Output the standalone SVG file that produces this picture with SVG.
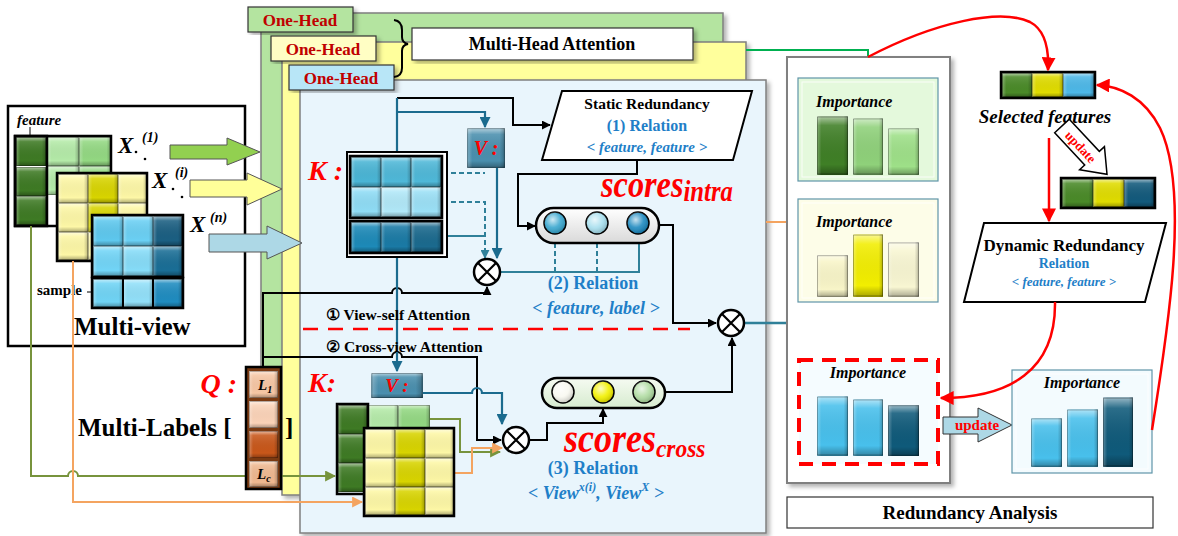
<svg xmlns="http://www.w3.org/2000/svg" width="1178" height="536" viewBox="0 0 1178 536">
<style>
.t{font-family:"Liberation Serif","Times New Roman",serif;font-weight:bold;}
.it{font-style:italic;}
.red{fill:#ff0000;}
.dred{fill:#c00000;}
.blu{fill:#1f7fc8;}
.ln{fill:none;stroke:#000;stroke-width:2;}
.tl{fill:none;stroke:#2f8099;stroke-width:2;}
.bl{fill:none;stroke:#1b6b8e;stroke-width:2.2;}
.dsh{stroke-dasharray:5,3;}
.rl{fill:none;stroke:#ff0000;stroke-width:2.5;}
.box{stroke:#000;stroke-width:2.5;fill:none;}
.panel{stroke:#7f7f7f;stroke-width:1.5;}
.imp{stroke:#5f95a8;stroke-width:1.2;}
.otimes circle{fill:#fff;stroke:#000;stroke-width:2.5;}
.otimes path{stroke:#000;stroke-width:2.2;}
</style>
<defs>
<linearGradient id="bev" x1="0" y1="0" x2="0" y2="1">
<stop offset="0" stop-color="#fff" stop-opacity="0.6"/>
<stop offset="0.16" stop-color="#fff" stop-opacity="0.12"/>
<stop offset="0.82" stop-color="#000" stop-opacity="0"/>
<stop offset="1" stop-color="#000" stop-opacity="0.32"/>
</linearGradient>
<linearGradient id="bevx" x1="0" y1="0" x2="1" y2="0">
<stop offset="0" stop-color="#fff" stop-opacity="0.3"/>
<stop offset="0.14" stop-color="#fff" stop-opacity="0"/>
<stop offset="0.86" stop-color="#000" stop-opacity="0"/>
<stop offset="1" stop-color="#000" stop-opacity="0.25"/>
</linearGradient>
<radialGradient id="gloss" cx="0.4" cy="0.35" r="0.6">
<stop offset="0" stop-color="#fff" stop-opacity="0.75"/>
<stop offset="0.6" stop-color="#fff" stop-opacity="0.1"/>
<stop offset="1" stop-color="#000" stop-opacity="0.15"/>
</radialGradient>
<linearGradient id="pill" x1="0" y1="0" x2="0" y2="1">
<stop offset="0" stop-color="#ffffff"/>
<stop offset="1" stop-color="#d9d9d9"/>
</linearGradient>
<linearGradient id="pill2" x1="0" y1="0" x2="0" y2="1">
<stop offset="0" stop-color="#f6fbf2"/>
<stop offset="1" stop-color="#d6ebcf"/>
</linearGradient>
<symbol id="cell" viewBox="0 0 30 30" preserveAspectRatio="none">
<rect x="0" y="0" width="30" height="30" fill="currentColor"/>
<rect x="0" y="0" width="30" height="30" fill="url(#bev)"/>
<rect x="0" y="0" width="30" height="30" fill="url(#bevx)"/>
<rect x="0.5" y="0.5" width="29" height="29" fill="none" stroke="#000" stroke-opacity="0.3" vector-effect="non-scaling-stroke"/>
</symbol>
<filter id="sh" x="-5%" y="-5%" width="115%" height="115%">
<feDropShadow dx="3" dy="3" stdDeviation="2" flood-color="#000" flood-opacity="0.3"/>
</filter>
<marker id="aK" viewBox="0 0 10 10" refX="9" refY="5" markerWidth="9" markerHeight="9" markerUnits="userSpaceOnUse" orient="auto"><path d="M0,0L10,5L0,10z" fill="#000"/></marker>
<marker id="aT" viewBox="0 0 10 10" refX="9" refY="5" markerWidth="9" markerHeight="9" markerUnits="userSpaceOnUse" orient="auto"><path d="M0,0L10,5L0,10z" fill="#2f8099"/></marker>
<marker id="aB" viewBox="0 0 10 10" refX="9" refY="5" markerWidth="11" markerHeight="11" markerUnits="userSpaceOnUse" orient="auto"><path d="M0,0L10,5L0,10z" fill="#1b6b8e"/></marker>
<marker id="aR" viewBox="0 0 10 10" refX="9" refY="5" markerWidth="14" markerHeight="14" markerUnits="userSpaceOnUse" orient="auto"><path d="M0,0L10,5L0,10z" fill="#ff0000"/></marker>
<marker id="aG" viewBox="0 0 10 10" refX="9" refY="5" markerWidth="10" markerHeight="10" markerUnits="userSpaceOnUse" orient="auto"><path d="M0,0L10,5L0,10z" fill="#00b050"/></marker>
<marker id="aO" viewBox="0 0 10 10" refX="9" refY="5" markerWidth="11" markerHeight="11" markerUnits="userSpaceOnUse" orient="auto"><path d="M0,0L10,5L0,10z" fill="#f4a460"/></marker>
<marker id="aL" viewBox="0 0 10 10" refX="9" refY="5" markerWidth="11" markerHeight="11" markerUnits="userSpaceOnUse" orient="auto"><path d="M0,0L10,5L0,10z" fill="#77933c"/></marker>
</defs>

<rect width="1178" height="536" fill="#fff"/>

<!-- panels -->
<g id="panels">
<rect x="261" y="13" width="462" height="465" fill="#b4e4a0" class="panel" filter="url(#sh)"/>
<rect x="282" y="42" width="464" height="453" fill="#ffff9c" class="panel" filter="url(#sh)"/>
<rect x="300" y="80" width="466" height="453" fill="#e9f5fc" class="panel" filter="url(#sh)"/>
</g>
<g id="head1"><rect x="248" y="7" width="105" height="25" fill="#b4e4a0" stroke="#333" stroke-width="1.2" filter="url(#sh)"/><text x="300" y="26" class="t dred" font-size="17" text-anchor="middle">One-Head</text></g>
<g id="head2"><rect x="271" y="36" width="105" height="25" fill="#fffec4" stroke="#333" stroke-width="1.2" filter="url(#sh)"/><text x="323" y="55" class="t dred" font-size="17" text-anchor="middle">One-Head</text></g>
<g id="head3"><rect x="289" y="65" width="105" height="25" fill="#b8e6f7" stroke="#333" stroke-width="1.2" filter="url(#sh)"/><text x="341" y="84" class="t dred" font-size="17" text-anchor="middle">One-Head</text></g>
<g id="brace"><path d="M394,20 Q402,21 402,30 L402,37 Q402,43 408,44 Q402,45 402,51 L402,68 Q402,76 394,77" fill="none" stroke="#000" stroke-width="2"/></g>
<g id="mha"><rect x="412" y="28" width="281" height="32" fill="#fff" stroke="#333" stroke-width="1.2" filter="url(#sh)"/><text x="552" y="50" class="t" font-size="18" text-anchor="middle">Multi-Head Attention</text></g>

<!-- multi-view -->
<g id="multiview">
<rect x="8" y="106" width="237" height="240" fill="#fff" stroke="#000" stroke-width="2.5"/>
<text x="17" y="125" class="t it" font-size="15">feature</text>
<line x1="30" y1="127" x2="30" y2="136" stroke="#000" stroke-width="1"/>
<g id="x1">
<use href="#cell" x="47" y="137" width="32" height="29" style="color:#b4eaa8"/>
<use href="#cell" x="79" y="137" width="32" height="29" style="color:#93d882"/>
<use href="#cell" x="47" y="166" width="32" height="29" style="color:#b4eaa8"/>
<use href="#cell" x="79" y="166" width="32" height="29" style="color:#93d882"/>
<use href="#cell" x="16" y="137" width="30" height="29" style="color:#3e7a24"/>
<use href="#cell" x="16" y="167" width="30" height="29" style="color:#3e7a24"/>
<use href="#cell" x="16" y="196" width="30" height="29" style="color:#3e7a24"/>
<rect x="15" y="136" width="96" height="90" class="box"/>
<rect x="15" y="136" width="32" height="90" class="box"/>
</g>
<g id="xi">
<use href="#cell" x="58" y="174" width="30" height="29" style="color:#fdf7a6"/>
<use href="#cell" x="88" y="174" width="30" height="29" style="color:#d8d400"/>
<use href="#cell" x="118" y="174" width="29" height="29" style="color:#fdf7a6"/>
<use href="#cell" x="58" y="203" width="30" height="29" style="color:#fdf7a6"/>
<use href="#cell" x="88" y="203" width="30" height="29" style="color:#d8d400"/>
<use href="#cell" x="118" y="203" width="29" height="29" style="color:#fdf7a6"/>
<use href="#cell" x="58" y="232" width="30" height="28" style="color:#fdf7a6"/>
<use href="#cell" x="88" y="232" width="30" height="28" style="color:#fdf7a6"/>
<use href="#cell" x="118" y="232" width="29" height="28" style="color:#fdf7a6"/>
<rect x="57" y="173" width="90" height="88" class="box"/>
</g>
<g id="xn">
<use href="#cell" x="93" y="216" width="30" height="30" style="color:#5ec8ee"/>
<use href="#cell" x="123" y="216" width="30" height="30" style="color:#6bd0f4"/>
<use href="#cell" x="153" y="216" width="29" height="30" style="color:#1b5f82"/>
<use href="#cell" x="93" y="246" width="30" height="30" style="color:#72d5f7"/>
<use href="#cell" x="123" y="246" width="30" height="30" style="color:#86dcf8"/>
<use href="#cell" x="153" y="246" width="29" height="30" style="color:#1a6e96"/>
<rect x="92" y="215" width="91" height="62" class="box" stroke="#0d3d58"/>
<use href="#cell" x="93" y="279" width="30" height="28" style="color:#70d4f5"/>
<use href="#cell" x="123" y="279" width="30" height="28" style="color:#92e0f9"/>
<use href="#cell" x="153" y="279" width="29" height="28" style="color:#1f8cc0"/>
<rect x="92" y="278" width="91" height="30" class="box"/>
<line x1="123" y1="278" x2="123" y2="308" stroke="#000" stroke-width="2"/>
<line x1="153" y1="278" x2="153" y2="308" stroke="#000" stroke-width="2"/>
</g>
<text x="37" y="295" class="t" font-size="15">sample</text>
<line x1="87" y1="292" x2="92" y2="292" stroke="#000" stroke-width="1"/>
<text x="118" y="153" class="t it" font-size="23">X<tspan x="142" y="142" font-size="14">(1)</tspan></text>
<text x="152" y="188" class="t it" font-size="23">X<tspan x="175" y="177" font-size="14">(i)</tspan></text>
<text x="190" y="232" class="t it" font-size="23">X<tspan x="210" y="222" font-size="14">(n)</tspan></text>
<circle cx="136" cy="152" r="1.3" fill="#000"/>
<circle cx="145" cy="159" r="1.3" fill="#000"/>
<circle cx="173" cy="189" r="1.3" fill="#000"/>
<circle cx="182" cy="197" r="1.3" fill="#000"/>
<text x="74" y="335" class="t" font-size="25">Multi-view</text>
</g>

<!-- input arrows -->
<g id="inarrows" stroke="#555" stroke-width="1">
<polygon points="170,145 227,145 227,138 260,152 227,165 227,159 170,159" fill="#92d050"/>
<polygon points="190,180 247,180 247,173 282,189 247,205 247,197 190,197" fill="#ffff99"/>
<polygon points="209,234 267,234 267,226 302,243 267,259 267,252 209,252" fill="#add8e6"/>
</g>

<!-- connectors -->
<g id="connectors">
<path d="M31,226 V476 H68 a5,5 0 0 1 10,0 H335" fill="none" stroke="#77933c" stroke-width="2" marker-end="url(#aL)"/>
<path d="M73,261 V502 H362" fill="none" stroke="#f4a460" stroke-width="2" marker-end="url(#aO)"/>
<path d="M263,368 V293 H392 a5,5 0 0 1 10,0 H487 V287" class="ln" marker-end="url(#aK)"/>
<path d="M263,357 H392 a5,5 0 0 1 10,0 H477 V440 H501" class="ln" marker-end="url(#aK)"/>
<path d="M397,98 H513 V125 H550" class="ln" marker-end="url(#aK)"/>
<path d="M397,98 V152" class="bl"/>
<path d="M397,112 H485 V127" class="bl" marker-end="url(#aB)"/>
<path d="M397,257 V371" class="bl" marker-end="url(#aB)"/>
<path d="M443,173 H485 M443,202 H485 V258" class="tl dsh" stroke="#2a5f70" marker-end="url(#aT)"/>
<path d="M443,236 H485" class="tl" stroke="#2a5f70"/>
<path d="M497,168 V258" class="bl" marker-end="url(#aB)"/>
<path d="M500,272 H639 V236" class="tl" marker-end="url(#aT)"/>
<path d="M555,272 V236" class="tl dsh" marker-end="url(#aT)"/>
<path d="M597,272 V236" class="tl dsh" marker-end="url(#aT)"/>
<path d="M637,160 V174 H518 V226 H535" class="ln" marker-end="url(#aK)"/>
<path d="M659,225 H673 V323 H716" class="ln" marker-end="url(#aK)"/>
<path d="M665,392 H732 V338" class="ln" marker-end="url(#aK)"/>
<path d="M744,323 H868 V358" fill="none" stroke="#2f8099" stroke-width="2.5" marker-end="url(#aT)"/>
<path d="M423,393 H472 a5,5 0 0 1 10,0 H502 V424" class="bl" marker-end="url(#aB)"/>
<path d="M430,419 H460 V452 H500" fill="none" stroke="#77933c" stroke-width="2" marker-end="url(#aL)"/>
<path d="M454,473 H472 V448 H502" fill="none" stroke="#f4a460" stroke-width="2" marker-end="url(#aO)"/>
<path d="M529,440 H547 V423 H603 V409" class="ln" marker-end="url(#aK)"/>
<path d="M746,50 H868 V77" fill="none" stroke="#00b050" stroke-width="2" marker-end="url(#aG)"/>
<path d="M766,222 H797" fill="none" stroke="#f4a460" stroke-width="2" marker-end="url(#aO)"/>
<line x1="303" y1="329" x2="690" y2="329" stroke="#ff0000" stroke-width="2.5" stroke-dasharray="15,10"/>
</g>

<!-- K top -->
<g id="ktop">
<text x="308" y="180" class="t it red" font-size="28">K :</text>
<rect x="347" y="152" width="100" height="105" fill="#fff" stroke="#000" stroke-width="2"/>
<use href="#cell" x="351" y="157" width="30" height="30" style="color:#4ab5d5"/>
<use href="#cell" x="381" y="157" width="30" height="30" style="color:#4fb8d8"/>
<use href="#cell" x="411" y="157" width="30" height="30" style="color:#4fb8d8"/>
<use href="#cell" x="351" y="187" width="30" height="30" style="color:#8fdcf5"/>
<use href="#cell" x="381" y="187" width="30" height="30" style="color:#b1e8f8"/>
<use href="#cell" x="411" y="187" width="30" height="30" style="color:#9be0f6"/>
<rect x="350" y="156" width="92" height="62" class="box"/>
<use href="#cell" x="351" y="222" width="30" height="30" style="color:#1d8ab8"/>
<use href="#cell" x="381" y="222" width="30" height="30" style="color:#1a7aa5"/>
<use href="#cell" x="411" y="222" width="30" height="30" style="color:#1b6a8e"/>
<rect x="350" y="221" width="92" height="32" class="box"/>
</g>
<g id="vtop">
<use href="#cell" x="467" y="128" width="38" height="40" style="color:#4a8fae"/>
<text x="486" y="155" class="t it red" font-size="20" text-anchor="middle">V :</text>
</g>
<g id="otimes1" class="otimes"><circle cx="487" cy="272" r="13"/><path d="M478,263 L496,281 M496,263 L478,281"/></g>

<g id="static">
<polygon points="562,91 752,91 733,160 542,160" fill="#fff" stroke="#000" stroke-width="2"/>
<text x="647" y="109" class="t" font-size="15.5" text-anchor="middle">Static Redundancy</text>
<text x="647" y="131" class="t blu" font-size="16" text-anchor="middle">(1) Relation</text>
<text x="647" y="152" class="t it blu" font-size="15" text-anchor="middle">&lt; feature, feature &gt;</text>
</g>

<g id="pillintra">
<rect x="536" y="208" width="123" height="35" rx="17.5" fill="url(#pill)" stroke="#000" stroke-width="2.5"/>
<circle cx="555" cy="223" r="11" fill="#3aa7cf" stroke="#000" stroke-width="1.5"/><circle cx="555" cy="223" r="11" fill="url(#gloss)"/>
<circle cx="597" cy="223" r="11" fill="#a8dfee" stroke="#000" stroke-width="1.5"/><circle cx="597" cy="223" r="11" fill="url(#gloss)"/>
<circle cx="638" cy="223" r="11" fill="#1f8ac0" stroke="#000" stroke-width="1.5"/><circle cx="638" cy="223" r="11" fill="url(#gloss)"/>
</g>
<text transform="translate(601,197) scale(0.85,1)" class="t it red" font-size="38">scores<tspan font-size="29" dy="4">intra</tspan></text>
<text x="593" y="289" class="t blu" font-size="18" text-anchor="middle">(2) Relation</text>
<text x="596" y="314" class="t it blu" font-size="18" text-anchor="middle">&lt; feature, label &gt;</text>
<g id="otimes2" class="otimes"><circle cx="731" cy="323" r="13"/><path d="M722,314 L740,332 M740,314 L722,332"/></g>

<text x="326" y="320" class="t" font-size="15.5">① View-self Attention</text>
<text x="326" y="352" class="t" font-size="15.5">② Cross-view Attention</text>

<!-- bottom K -->
<g id="kbot">
<text x="308" y="392" class="t it red" font-size="28">K:</text>
<use href="#cell" x="371" y="373" width="52" height="25" style="color:#4a8fae"/>
<text x="397" y="392" class="t it red" font-size="19" text-anchor="middle">V :</text>
<use href="#cell" x="368" y="405" width="30" height="28" style="color:#b4eaa8"/>
<use href="#cell" x="398" y="405" width="32" height="28" style="color:#93d882"/>
<use href="#cell" x="338" y="405" width="29" height="29" style="color:#3e7a24"/>
<use href="#cell" x="338" y="434" width="29" height="29" style="color:#3e7a24"/>
<use href="#cell" x="338" y="463" width="29" height="29" style="color:#3e7a24"/>
<rect x="337" y="404" width="31" height="90" class="box"/>
<use href="#cell" x="365" y="429" width="30" height="29" style="color:#fdf7a6"/>
<use href="#cell" x="395" y="429" width="30" height="29" style="color:#d8d400"/>
<use href="#cell" x="425" y="429" width="29" height="29" style="color:#fdf7a6"/>
<use href="#cell" x="365" y="458" width="30" height="29" style="color:#fdf7a6"/>
<use href="#cell" x="395" y="458" width="30" height="29" style="color:#d8d400"/>
<use href="#cell" x="425" y="458" width="29" height="29" style="color:#fdf7a6"/>
<use href="#cell" x="365" y="487" width="30" height="28" style="color:#fdf7a6"/>
<use href="#cell" x="395" y="487" width="30" height="28" style="color:#d8d400"/>
<use href="#cell" x="425" y="487" width="29" height="28" style="color:#fdf7a6"/>
<rect x="364" y="428" width="90" height="88" class="box"/>
</g>
<g id="otimes3" class="otimes"><circle cx="516" cy="440" r="13"/><path d="M507,431 L525,449 M525,431 L507,449"/></g>
<g id="pillcross">
<rect x="542" y="378" width="123" height="30" rx="15" fill="url(#pill2)" stroke="#000" stroke-width="2.5"/>
<circle cx="563" cy="392" r="11" fill="#f8f8f0" stroke="#000" stroke-width="1.5"/><circle cx="563" cy="392" r="11" fill="url(#gloss)"/>
<circle cx="603" cy="392" r="11" fill="#f2f000" stroke="#000" stroke-width="1.5"/><circle cx="603" cy="392" r="11" fill="url(#gloss)"/>
<circle cx="644" cy="392" r="11" fill="#b0dca2" stroke="#000" stroke-width="1.5"/><circle cx="644" cy="392" r="11" fill="url(#gloss)"/>
</g>
<text transform="translate(564,452) scale(0.9,1)" class="t it red" font-size="40">scores<tspan font-size="26" dy="5">cross</tspan></text>
<text x="593" y="474" class="t blu" font-size="18" text-anchor="middle">(3) Relation</text>
<text x="596" y="499" class="t it blu" font-size="18" text-anchor="middle">&lt; View<tspan dy="-8" font-size="12">x(i)</tspan><tspan dy="8">, View</tspan><tspan dy="-8" font-size="12">X</tspan><tspan dy="8"> &gt;</tspan></text>

<!-- labels -->
<g id="labels">
<text x="237" y="393" class="t it red" font-size="28" text-anchor="end">Q :</text>
<text x="78" y="436" class="t" font-size="25">Multi-Labels [</text>
<text x="285" y="436" class="t" font-size="25">]</text>
<rect x="246" y="367" width="35" height="122" fill="#7a3a12" stroke="#000" stroke-width="2.5"/>
<use href="#cell" x="249" y="371" width="29" height="27" style="color:#f6c6a4"/>
<use href="#cell" x="249" y="401" width="29" height="27" style="color:#fbd3b8"/>
<use href="#cell" x="249" y="431" width="29" height="27" style="color:#c8571a"/>
<use href="#cell" x="249" y="461" width="29" height="26" style="color:#efb890"/>
<text x="258" y="390" class="t it" font-size="15">L<tspan font-size="10" dy="3">1</tspan></text>
<text x="257" y="479" class="t it" font-size="15">L<tspan font-size="10" dy="3">c</tspan></text>
</g>

<!-- redundancy analysis -->
<g id="ra">
<rect x="787" y="57" width="163" height="426" fill="#fff" stroke="#808080" stroke-width="2" filter="url(#sh)"/>
</g>
<g id="imp1">
<rect x="798" y="78" width="140" height="103" fill="#e4f9dc" class="imp"/>
<rect x="802" y="82" width="132" height="95" fill="none" stroke="#fff" stroke-opacity="0.8"/>
<text x="816" y="107" class="t it" font-size="16">Importance</text>
<use href="#cell" x="817" y="116" width="31" height="59" style="color:#3f7f26"/>
<use href="#cell" x="853" y="118" width="30" height="57" style="color:#8fd17a"/>
<use href="#cell" x="888" y="128" width="31" height="47" style="color:#9ee088"/>
</g>
<g id="imp2">
<rect x="798" y="199" width="140" height="103" fill="#fdfde8" class="imp"/>
<rect x="802" y="203" width="132" height="95" fill="none" stroke="#fff" stroke-opacity="0.8"/>
<text x="816" y="227" class="t it" font-size="16">Importance</text>
<use href="#cell" x="817" y="255" width="31" height="42" style="color:#f8f5c8"/>
<use href="#cell" x="853" y="234" width="30" height="63" style="color:#f2ee00"/>
<use href="#cell" x="888" y="242" width="31" height="55" style="color:#f8f6d2"/>
</g>
<g id="imp3">
<rect x="799" y="360" width="139" height="104" fill="#f5fcff" stroke="#ff0000" stroke-width="4" stroke-dasharray="14,9"/>
<text x="868" y="378" class="t it" font-size="16" text-anchor="middle">Importance</text>
<use href="#cell" x="817" y="396" width="31" height="60" style="color:#48c0ec"/>
<use href="#cell" x="853" y="399" width="30" height="57" style="color:#48c0ec"/>
<use href="#cell" x="888" y="405" width="31" height="51" style="color:#0f5a7a"/>
</g>
<g id="upd1">
<polygon points="943,417 978,417 978,408 1012,425 978,442 978,434 943,434" fill="#add8e6" stroke="#333" stroke-width="1"/>
<text x="977" y="430" class="t red" font-size="15" text-anchor="middle">update</text>
</g>
<g id="imp4">
<rect x="1012" y="370" width="140" height="103" fill="#f3fbfe" class="imp"/>
<rect x="1016" y="374" width="132" height="95" fill="none" stroke="#fff" stroke-opacity="0.8"/>
<text x="1082" y="388" class="t it" font-size="16" text-anchor="middle">Importance</text>
<use href="#cell" x="1031" y="418" width="31" height="49" style="color:#48c0ec"/>
<use href="#cell" x="1067" y="409" width="31" height="58" style="color:#48c0ec"/>
<use href="#cell" x="1103" y="397" width="30" height="70" style="color:#0f5a7a"/>
</g>
<g id="ralabel">
<rect x="787" y="497" width="366" height="31" fill="#fff" stroke="#333" stroke-width="1.2"/>
<text x="970" y="519" class="t" font-size="19" text-anchor="middle">Redundancy Analysis</text>
</g>

<g id="selected">
<use href="#cell" x="1002" y="73" width="30" height="24" style="color:#4a8a28"/>
<use href="#cell" x="1032" y="73" width="31" height="24" style="color:#e0dc00"/>
<use href="#cell" x="1063" y="73" width="31" height="24" style="color:#4db8e8"/>
<rect x="1001" y="72" width="94" height="26" class="box"/>
<text x="1045" y="123" class="t it" font-size="19" text-anchor="middle">Selected features</text>
</g>
<g id="upd2" transform="translate(1062,126) rotate(47)">
<polygon points="0,-10 44,-10 44,-17 66,0 44,17 44,10 0,10" fill="#fff" stroke="#000" stroke-width="1.5"/>
<text x="28" y="5" class="t red" font-size="13" text-anchor="middle">update</text>
</g>
<g id="selected2">
<use href="#cell" x="1062" y="179" width="31" height="28" style="color:#4a8a28"/>
<use href="#cell" x="1093" y="179" width="31" height="28" style="color:#e0dc00"/>
<use href="#cell" x="1124" y="179" width="30" height="28" style="color:#135a7c"/>
<rect x="1061" y="178" width="94" height="30" class="box"/>
</g>
<g id="dynamic">
<polygon points="984,223 1166,223 1145,302 964,302" fill="#fff" stroke="#000" stroke-width="2"/>
<text x="1064" y="251" class="t" font-size="17" text-anchor="middle">Dynamic Redundancy</text>
<text x="1064" y="268" class="t blu" font-size="14" text-anchor="middle">Relation</text>
<text x="1064" y="286" class="t it blu" font-size="13" text-anchor="middle">&lt; feature, feature &gt;</text>
</g>

<!-- red feedback connectors -->
<g id="connectors-red">
<path d="M868,57 C935,22 1000,8 1030,22 C1045,30 1049,50 1048,70" class="rl" marker-end="url(#aR)"/>
<path d="M1152,430 C1168,330 1190,190 1160,128 C1145,98 1120,86 1097,85" class="rl" marker-end="url(#aR)"/>
<path d="M1055,302 C1056,370 1010,398 941,398" class="rl" marker-end="url(#aR)"/>
<path d="M1049,138 V221" class="rl" marker-end="url(#aR)"/>
</g>
</svg>
